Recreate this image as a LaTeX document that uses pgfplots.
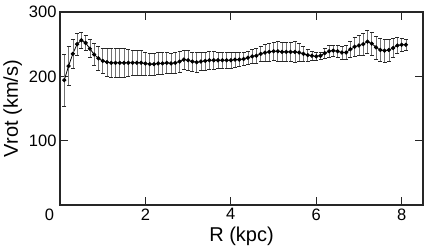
\documentclass[border=0pt]{standalone}
\usepackage{fontspec}
\setmainfont{Liberation Sans}
\usepackage{pgfplots}
\usepackage{pgfplotstable}
\pgfplotsset{compat=1.18}
\pgfplotstableread{
x y e
0.1 194 40
0.2 216 30
0.3 235 22
0.4 250 17
0.5 256 13
0.6 252 12
0.7 243 14
0.8 234 17
0.9 228 18
1.0 224 20
1.1 222 22
1.2 221 22
1.3 221 22
1.4 221 22
1.5 221 22
1.6 221 21
1.7 221 20
1.8 221 19
1.9 221 19
2.0 220 18
2.1 219 17
2.2 219 17
2.3 220 17
2.4 220 17
2.5 221 16
2.6 220 16
2.7 221 16
2.8 223 16
2.9 226 15
3.0 225 15
3.1 223 15
3.2 222 15
3.3 223 14
3.4 224 14
3.5 225 14
3.6 225 14
3.7 225 13
3.8 225 13
3.9 225 13
4.0 225 12
4.1 226 12
4.2 226 11
4.3 227 10
4.4 229 10
4.5 231 11
4.6 232 12
4.7 235 12
4.8 237 13
4.9 238 14
5.0 239 14
5.1 239 15
5.2 238 15
5.3 238 15
5.4 238 15
5.5 238 16
5.6 237 14
5.7 235 12
5.8 233 9
5.9 232 7
6.0 231 6
6.1 232 6
6.2 236 8
6.3 239 9
6.4 240 9
6.5 239 10
6.6 237 10
6.7 237 11
6.8 242 13
6.9 246 15
7.0 248 16
7.1 250 17
7.2 254 18
7.3 251 18
7.4 245 18
7.5 241 18
7.6 240 18
7.7 241 17
7.8 244 15
7.9 248 12
8.0 249 10
8.1 249 9
}\rotdata
\begin{document}
\begin{tikzpicture}
\begin{axis}[
  at={(0,0)}, anchor=south west,
  scale only axis, width=363pt, height=193pt,
  xmin=0, xmax=8.5, ymin=0, ymax=300,
  xtick={2,4,6,8}, ytick={100,200,300},
  extra x ticks={0},
  extra x tick style={major tick length=0pt, xticklabel style={xshift=-10.5pt}},
  tick align=inside, major tick length=8pt,
  tick style={line width=1.2pt, black!85},
  axis line style={line width=1.4pt, black!85},
  tick label style={font=\fontsize{16.5}{18}\selectfont},
  label style={font=\fontsize{20}{22}\selectfont},
  xlabel={R (kpc)}, ylabel={Vrot (km/s)},
  /pgf/number format/assume math mode=true,
]
\addplot[black, line width=0.8pt, mark=*, mark size=1.7pt,
  error bars/.cd, y dir=both, y explicit,
  error bar style={black!55, line width=0.6pt},
  error mark options={rotate=90, mark size=2pt, black!85, line width=0.6pt}]
  table[x=x, y=y, y error=e] {\rotdata};
\end{axis}
\pgfresetboundingbox
\path[use as bounding box] (-60pt,-42pt) rectangle (376pt,205pt);
\end{tikzpicture}
\end{document}
